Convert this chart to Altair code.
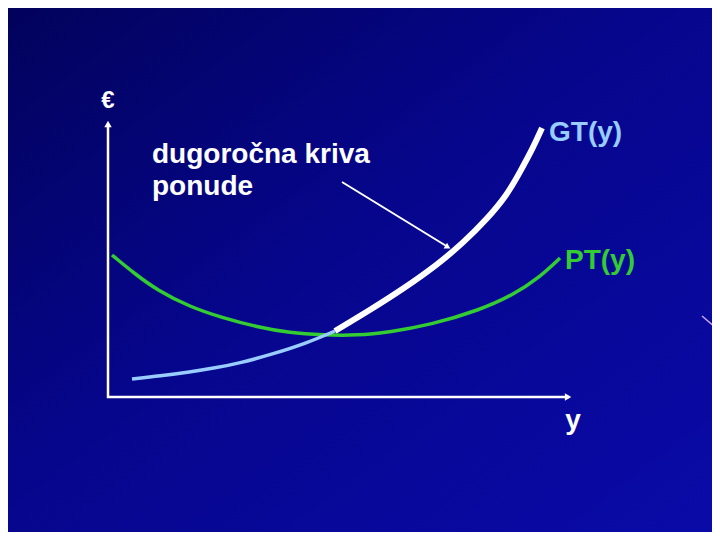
import altair as alt
import pandas as pd

# PT(y) – green U-shaped curve (screen-pixel coordinates)
pt_x = [112, 135, 157, 190, 223, 257, 290, 323, 357, 390, 430, 480, 513, 540, 560]
pt_y = [255, 274, 290, 307, 318, 327, 333, 335, 335.5, 332, 325, 310, 295, 277, 258]

# GT(y) – lower light-blue part and upper white part (long-run supply curve)
gt_low_x = [132, 160, 190, 215, 240, 273, 307, 335]
gt_low_y = [379, 376, 372, 368, 363, 354, 343, 331]
gt_up_x = [335, 370, 403, 437, 463, 487, 507, 520, 533, 542]
gt_up_y = [331, 310, 289, 265, 243, 219, 195, 172, 148, 128]

# axes polyline (top of vertical axis, origin, end of horizontal axis)
axis_x = [108, 108, 569]
axis_y = [124, 397, 397]

# pointer arrow from the label to the supply curve
pointer_x = [342, 448]
pointer_y = [182, 247]

# arrow heads: x, y, angle
head_x = [108, 567, 447]
head_y = [125, 397, 246.5]
head_angle = [0, 90, 121]
head_size = [55, 55, 45]

# faint decorative streak at the right edge of the slide
streak_x = [702, 722]
streak_y = [316, 333]

label_text = ["dugoročna kriva", "ponude"]
label_x = [152, 152]
label_y = [155, 187]

W, H = 704, 524
X_SC = alt.Scale(domain=[8, 8 + W], nice=False, zero=False)
Y_SC = alt.Scale(domain=[8 + H, 8], nice=False, zero=False)
FONT = "Liberation Sans"


def xy():
    return dict(
        x=alt.X("x:Q", scale=X_SC, axis=None),
        y=alt.Y("y:Q", scale=Y_SC, axis=None),
    )


one = pd.DataFrame({"a": [0]})
bg = alt.Chart(one).mark_rect(
    fill=alt.Gradient(
        gradient="linear",
        stops=[
            alt.GradientStop(color="#02025c", offset=0),
            alt.GradientStop(color="#06068c", offset=0.45),
            alt.GradientStop(color="#0a0aa8", offset=1),
        ],
        x1=0, x2=1, y1=0, y2=1,
    )
).encode(x=alt.value(0), x2=alt.value(W), y=alt.value(0), y2=alt.value(H))


def frame(xs, ys):
    return pd.DataFrame({"x": xs, "y": ys, "i": range(len(xs))})


streak = alt.Chart(frame(streak_x, streak_y)).mark_line(color="#c9a6f2", strokeWidth=1.5).encode(
    order="i:Q", **xy())
pt_line = alt.Chart(frame(pt_x, pt_y)).mark_line(color="#33cc33", strokeWidth=3.5, interpolate="basis").encode(
    order="i:Q", **xy())
low_line = alt.Chart(frame(gt_low_x, gt_low_y)).mark_line(color="#99ccff", strokeWidth=3.5, interpolate="basis").encode(
    order="i:Q", **xy())
up_line = alt.Chart(frame(gt_up_x, gt_up_y)).mark_line(color="#ffffff", strokeWidth=6, interpolate="basis").encode(
    order="i:Q", **xy())
axes = alt.Chart(frame(axis_x, axis_y)).mark_line(color="#ffffff", strokeWidth=2.5, interpolate="linear").encode(
    order="i:Q", **xy())
pointer = alt.Chart(frame(pointer_x, pointer_y)).mark_line(color="#ffffff", strokeWidth=2).encode(
    order="i:Q", **xy())

head_df = pd.DataFrame({"x": head_x, "y": head_y, "a": head_angle, "s": head_size})
heads = alt.Chart(head_df).mark_point(shape="triangle", filled=True, color="#ffffff", opacity=1).encode(
    angle=alt.Angle("a:Q", scale=None), size=alt.Size("s:Q", scale=None, legend=None), **xy())

lab_df = pd.DataFrame({"x": label_x, "y": label_y, "t": label_text})
labels = alt.Chart(lab_df).mark_text(
    align="left", baseline="middle", font=FONT, fontWeight="bold", fontSize=28, color="#ffffff"
).encode(text="t:N", **xy())

gt_df = pd.DataFrame({"x": [549], "y": [133], "t": ["GT(y)"]})
gt_lab = alt.Chart(gt_df).mark_text(
    align="left", baseline="middle", font=FONT, fontWeight="bold", fontSize=28, color="#99ccff"
).encode(text="t:N", **xy())

ptl_df = pd.DataFrame({"x": [565], "y": [261], "t": ["PT(y)"]})
pt_lab = alt.Chart(ptl_df).mark_text(
    align="left", baseline="middle", font=FONT, fontWeight="bold", fontSize=28, color="#33cc33"
).encode(text="t:N", **xy())

ax_lab_df = pd.DataFrame({"x": [108, 573], "y": [101, 421], "t": ["€", "y"], "s": [24, 28]})
ax_lab = alt.Chart(ax_lab_df).mark_text(
    align="center", baseline="middle", font=FONT, fontWeight="bold", color="#ffffff"
).encode(text="t:N", size=alt.Size("s:Q", scale=None, legend=None), **xy())

chart = alt.layer(
    bg, streak, pt_line, low_line, up_line, axes, pointer, heads, labels, gt_lab, pt_lab, ax_lab
).properties(
    width=W, height=H, padding=0, autosize=alt.AutoSizeParams(type="none"),
    background="#06068c",
).configure_view(stroke=None)

chart.save("out.html", embed_options={"renderer": "svg", "actions": False})
